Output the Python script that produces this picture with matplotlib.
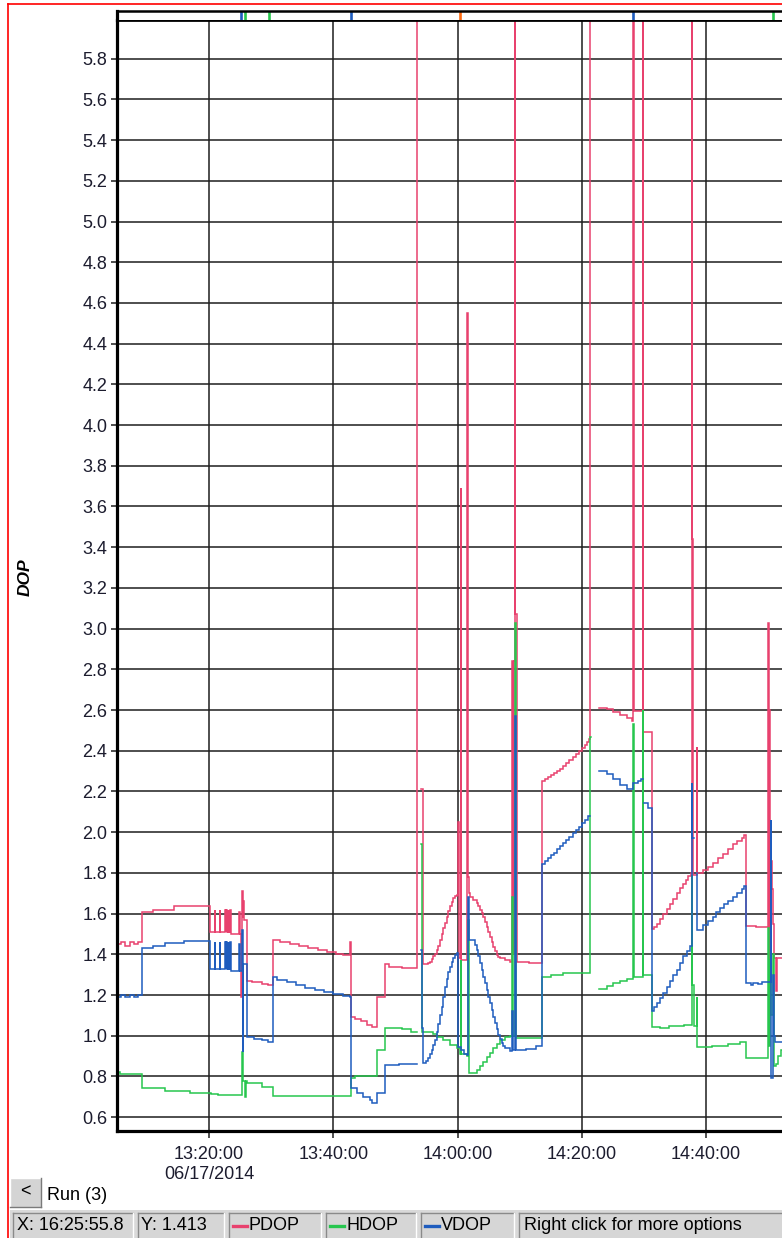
import numpy as np
import matplotlib
matplotlib.use("Agg")
import matplotlib.pyplot as plt
from matplotlib.patches import Rectangle
from matplotlib.lines import Line2D

plt.rcParams['font.family'] = ['Liberation Sans', 'DejaVu Sans']

TOP = 9.9      # readings that run off the top of the chart
NA = np.nan    # no fix recorded

# Time is minutes after 13:00:00 on 06/17/2014; each pair is (minute, DOP)
PDOP = [
    (5.2, 1.45), (5.9, 1.46), (6.5, 1.44), (7.3, 1.46), (7.9, 1.45), (8.6, 1.46),
    (9.2, 1.61), (11.0, 1.62), (14.4, 1.635), (20.2, 1.51),
    (20.9, 1.62), (21.0, 1.51), (21.7, 1.62), (21.8, 1.51), (22.6, 1.62), (22.7, 1.51),
    (22.8, 1.62), (22.9, 1.51), (23.0, 1.62), (23.1, 1.51), (23.2, 1.62), (23.3, 1.51),
    (23.4, 1.62), (23.5, 1.50), (24.9, 1.61), (25.0, 1.50), (25.2, 1.19), (25.3, 1.71),
    (25.4, 1.58), (25.5, 1.66), (25.6, 1.57), (26.1, 1.27), (27.0, 1.265), (28.5, 1.255),
    (29.5, 1.25), (30.3, 1.47), (31.5, 1.46), (33.0, 1.45), (34.5, 1.44), (36.0, 1.43),
    (37.5, 1.42), (39.0, 1.41), (40.5, 1.40), (41.5, 1.395), (42.7, 1.46), (42.85, 1.09),
    (43.5, 1.08), (44.5, 1.07), (45.5, 1.055), (46.3, 1.045), (47.0, 1.19), (48.3, 1.35),
    (49.0, 1.34), (51.0, 1.335), (53.47, TOP), (53.6, NA),
    (54.2, 2.21), (54.45, 1.35), (54.76, 1.35), (55.2, 1.357), (55.56, 1.364), (55.83, 1.375),
    (56.1, 1.39), (56.37, 1.404), (56.64, 1.42), (56.9, 1.443), (57.17, 1.47), (57.43, 1.498),
    (57.7, 1.528), (57.97, 1.556), (58.25, 1.585), (58.5, 1.612), (58.78, 1.635),
    (59.05, 1.656), (59.31, 1.675), (59.58, 1.685), (59.86, 1.692),
    (60.15, 2.05), (60.22, 1.38), (60.55, 3.69), (60.62, 1.37), (61.6, 4.55), (61.67, 1.78),
    (61.85, 1.70), (62.0, 1.684), (62.54, 1.668), (63.08, 1.652), (63.34, 1.636), (63.6, 1.62),
    (63.87, 1.603), (64.14, 1.585), (64.41, 1.56), (64.69, 1.536), (64.95, 1.51),
    (65.22, 1.486), (65.48, 1.462), (65.75, 1.438), (66.02, 1.417), (66.3, 1.397),
    (66.56, 1.388), (66.83, 1.38), (67.63, 1.372), (68.44, 1.364),
    (68.7, 2.84), (68.9, 1.40), (69.1, 2.84), (69.24, TOP), (69.28, 3.07), (69.55, 1.36),
    (71.5, 1.357), (73.55, 2.25), (74.0, 2.26), (74.5, 2.27), (75.0, 2.28), (75.5, 2.29),
    (76.0, 2.30), (76.5, 2.31), (77.0, 2.325), (77.5, 2.34), (78.0, 2.355), (78.5, 2.37),
    (79.0, 2.385), (79.5, 2.40), (80.0, 2.415), (80.5, 2.43), (80.9, 2.445), (81.2, 2.46),
    (81.31, TOP), (81.45, NA),
    (82.76, 2.61), (84.0, 2.607), (85.05, 2.59), (86.14, 2.577), (87.2, 2.56), (88.0, 2.547),
    (88.28, TOP), (88.32, 2.595), (89.84, TOP), (89.88, 2.49), (91.28, 1.525),
    (91.65, 1.535), (92.04, 1.55), (92.55, 1.575), (93.1, 1.60), (93.65, 1.624),
    (94.18, 1.647), (94.7, 1.673), (95.25, 1.70), (95.8, 1.724), (96.32, 1.747),
    (96.7, 1.765), (97.13, 1.785), (97.5, 1.80), (97.67, TOP), (97.71, 3.44), (97.85, 1.79),
    (98.5, 2.42), (98.56, 1.80), (99.54, 1.812), (100.35, 1.83), (101.15, 1.85),
    (101.95, 1.872), (102.76, 1.895), (103.55, 1.918), (104.37, 1.94), (105.05, 1.957),
    (105.72, 1.973), (106.1, 1.985), (106.41, 1.54), (108.0, 1.535), (109.95, 3.03),
    (110.1, 1.25), (110.2, 2.6), (110.35, 1.3), (110.5, 1.86), (110.65, 1.72), (110.8, 1.55),
    (111.0, 1.38), (111.3, 1.22), (111.45, 1.38), (113.5, 1.38),
]

HDOP = [
    (5.2, 0.82), (5.7, 0.81), (9.2, 0.745), (13.0, 0.73), (17.0, 0.72), (20.4, 0.715),
    (21.5, 0.71), (25.35, 0.92), (25.5, 0.78), (25.8, 0.70), (25.9, 0.78), (26.07, 0.77),
    (28.5, 0.75), (30.3, 0.705), (42.85, 0.79), (43.5, 0.80), (47.0, 0.93), (48.3, 1.04),
    (51.0, 1.035), (52.5, 1.02), (53.47, NA),
    (54.2, 1.94), (54.3, 1.02), (56.1, 1.01), (56.64, 0.995), (57.7, 0.979), (58.78, 0.955),
    (59.86, 0.942), (60.4, 0.91), (60.55, 1.37), (60.62, 0.91), (61.5, 0.90), (61.7, 1.57),
    (61.77, 0.815), (62.5, 0.815), (63.1, 0.83), (63.6, 0.85), (64.1, 0.87), (64.7, 0.895),
    (65.2, 0.915), (65.75, 0.94), (66.3, 0.96), (66.83, 0.98), (67.63, 0.995), (68.44, 1.0),
    (68.7, 1.68), (68.9, 1.0), (69.24, 3.03), (69.35, 0.99), (71.5, 0.99), (73.55, 1.29),
    (75.0, 1.30), (77.0, 1.31), (81.31, 2.47), (81.4, NA),
    (82.76, 1.23), (84.0, 1.245), (85.05, 1.26), (86.14, 1.27), (87.2, 1.28), (88.28, 2.53),
    (88.34, 1.29), (89.84, 2.6), (89.9, 1.30), (91.28, 1.045), (92.5, 1.04), (94.0, 1.05),
    (96.5, 1.055), (97.67, 1.79), (97.8, 1.25), (98.0, 1.05), (98.5, 1.19), (98.6, 0.945),
    (101.0, 0.95), (103.5, 0.96), (105.5, 0.97), (106.41, 0.89), (109.95, 1.53), (110.1, 0.95),
    (110.3, 1.37), (110.5, 1.1), (110.7, 1.4), (110.9, 0.85), (111.2, 0.86), (111.5, 0.90),
    (112.0, 0.93), (113.5, 0.93),
]

VDOP = [
    (5.2, 1.19), (5.9, 1.20), (6.5, 1.19), (7.3, 1.20), (7.9, 1.19), (8.6, 1.20),
    (9.2, 1.43), (11.0, 1.44), (13.0, 1.455), (16.0, 1.463), (20.2, 1.33),
    (20.9, 1.46), (21.0, 1.33), (21.7, 1.46), (21.8, 1.33), (22.6, 1.46), (22.7, 1.33),
    (22.8, 1.46), (22.9, 1.33), (23.0, 1.46), (23.1, 1.33), (23.2, 1.46), (23.3, 1.33),
    (23.4, 1.46), (23.5, 1.32), (24.9, 1.45), (25.0, 1.32), (25.3, 1.52), (25.4, 0.92),
    (25.5, 1.35), (26.1, 0.995), (27.3, 0.985), (28.5, 0.98), (29.5, 0.97),
    (30.3, 1.29), (31.0, 1.275), (32.5, 1.265), (34.0, 1.25), (35.5, 1.235), (37.0, 1.225),
    (38.5, 1.215), (40.0, 1.205), (41.5, 1.195), (42.7, 1.19), (42.85, 0.745), (43.8, 0.72),
    (44.8, 0.70), (45.9, 0.685), (46.3, 0.67), (47.0, 0.72), (48.3, 0.857), (50.5, 0.86),
    (53.47, NA),
    (54.2, 1.42), (54.35, 1.04), (54.45, 0.866), (55.0, 0.875), (55.29, 0.89), (55.56, 0.91),
    (55.84, 0.93), (56.1, 0.953), (56.37, 0.98), (56.64, 1.02), (56.9, 1.06), (57.17, 1.10),
    (57.45, 1.143), (57.7, 1.19), (57.98, 1.24), (58.24, 1.28), (58.5, 1.315), (58.78, 1.34),
    (59.06, 1.36), (59.32, 1.38), (59.58, 1.397), (59.96, 1.405),
    (60.1, 0.947), (60.55, 0.93), (61.0, 0.91), (61.5, 0.905), (61.7, 1.68),
    (61.85, 1.47), (62.27, 1.47), (62.8, 1.446), (63.06, 1.42), (63.33, 1.39), (63.6, 1.357),
    (63.88, 1.323), (64.14, 1.29), (64.41, 1.258), (64.68, 1.225), (64.94, 1.192),
    (65.21, 1.16), (65.49, 1.126), (65.75, 1.093), (66.02, 1.061), (66.28, 1.032),
    (66.55, 1.004), (66.83, 0.983), (67.1, 0.963), (67.36, 0.95), (67.63, 0.94),
    (68.44, 0.927), (68.7, 1.12), (68.9, 0.93), (69.3, 2.57), (69.36, 0.93), (71.0, 0.935),
    (72.6, 0.95), (73.55, 1.845), (74.0, 1.86), (74.5, 1.875), (75.0, 1.888), (75.5, 1.90),
    (76.0, 1.915), (76.5, 1.93), (77.0, 1.945), (77.5, 1.96), (78.0, 1.978), (78.5, 1.995),
    (79.0, 2.01), (79.5, 2.025), (80.0, 2.043), (80.5, 2.06), (81.0, 2.08), (81.31, NA),
    (82.76, 2.30), (84.0, 2.284), (85.05, 2.26), (86.14, 2.232), (87.2, 2.21), (88.28, 2.24),
    (89.0, 2.25), (89.6, 2.26), (89.84, NA), (90.0, 2.145), (90.7, 2.12), (91.28, 1.12),
    (91.65, 1.14), (92.04, 1.16), (92.55, 1.185), (93.1, 1.211), (93.65, 1.24), (94.18, 1.27),
    (94.7, 1.296), (95.25, 1.322), (95.8, 1.356), (96.32, 1.39), (96.85, 1.415), (97.4, 1.44),
    (97.65, 2.24), (97.8, 1.97), (98.0, NA), (98.5, 1.80), (98.55, 1.52), (99.54, 1.544),
    (100.3, 1.565), (101.1, 1.585), (101.65, 1.607), (102.22, 1.628), (102.9, 1.645),
    (103.6, 1.663), (104.3, 1.68), (104.96, 1.70), (105.7, 1.72), (106.1, 1.735),
    (106.41, 1.26), (107.2, 1.25), (107.6, 1.26), (108.4, 1.255), (109.0, 1.265),
    (110.38, 2.06), (110.5, 0.79), (110.7, 1.30), (110.85, 1.0), (111.07, 0.97), (113.5, 0.97),
]

# event markers in the strip above the plot: (minute, kind)
EVENTS = [(25.15, 'v'), (25.8, 'h'), (29.66, 'h'), (42.85, 'v'),
          (60.39, 'o'), (88.2, 'v'), (110.75, 'h')]

X_TICKS = [20, 40, 60, 80, 100]
X_LABELS = ['13:20:00\n06/17/2014', '13:40:00', '14:00:00', '14:20:00', '14:40:00']
Y_TICKS = [round(0.6 + 0.2 * i, 1) for i in range(27)]

C_P, C_H, C_V, C_O = '#E8416E', '#27C64E', '#1E5CBE', '#FF6A10'
EVENT_COL = {'v': C_V, 'h': C_H, 'o': C_O}

W, H = 782, 1238
fig = plt.figure(figsize=(W / 100, H / 100), dpi=100)
fig.patch.set_facecolor('white')


def fx(x):
    return x / W


def fy(y):
    return 1 - y / H


ax = fig.add_axes([fx(117), fy(1131), fx(790) - fx(117), fy(20) - fy(1131)])
ax.set_xlim(5.2, 113.5)
ax.set_ylim(0.532, 5.99)
ax.set_axisbelow(True)
ax.grid(True, color='#1e1e1e', lw=1.1)

for series, col in ((PDOP, C_P), (HDOP, C_H), (VDOP, C_V)):
    t, v = zip(*series)
    ax.plot(t, v, drawstyle='steps-post', color=col, lw=1.1, solid_joinstyle='miter')

ax.set_xticks(X_TICKS)
ax.set_xticklabels(X_LABELS)
ax.set_yticks(Y_TICKS)
ax.set_yticklabels([f'{v:.1f}' for v in Y_TICKS])
ax.tick_params(axis='both', direction='out', width=1.1, color='#1e1e1e',
               labelsize=13, labelcolor='#1c1c2e')
ax.tick_params(axis='y', length=4, pad=3)
ax.tick_params(axis='x', length=5, pad=6)
ax.spines['right'].set_visible(False)
ax.spines['left'].set_linewidth(2.3)
ax.spines['bottom'].set_linewidth(2.3)
ax.spines['top'].set_linewidth(2.0)
for s in ax.spines.values():
    s.set_color('black')

# event strip
sax = fig.add_axes([fx(117), fy(20), fx(790) - fx(117), fy(11) - fy(20)])
sax.set_xlim(5.2, 113.5)
sax.set_ylim(0, 1)
sax.set_xticks([])
sax.set_yticks([])
sax.spines['bottom'].set_visible(False)
sax.spines['right'].set_visible(False)
sax.spines['top'].set_linewidth(1.8)
sax.spines['left'].set_linewidth(2.3)
for t, k in EVENTS:
    sax.axvline(t, color=EVENT_COL[k], lw=1.9)

fig.text(fx(25), fy(577), 'DOP', rotation=90, ha='center', va='center',
         fontsize=12.5, fontweight='bold', fontstyle='italic', color='black')

# window frame
fig.add_artist(Line2D([fx(8), fx(8)], [fy(4), 0], color='#ff0000', lw=1.2))
fig.add_artist(Line2D([fx(8), 1], [fy(4), fy(4)], color='#ff0000', lw=1.2))


def panel(x0, y0, x1, y1, face, sunken=True):
    fig.add_artist(Rectangle((fx(x0), fy(y1)), fx(x1) - fx(x0), fy(y0) - fy(y1),
                             facecolor=face, edgecolor='none'))
    dark, light = ('#8a8a8a', '#ffffff') if sunken else ('#ffffff', '#7a7a7a')
    fig.add_artist(Line2D([fx(x0), fx(x1)], [fy(y0), fy(y0)], color=dark, lw=1.0))
    fig.add_artist(Line2D([fx(x0), fx(x0)], [fy(y0), fy(y1)], color=dark, lw=1.0))
    fig.add_artist(Line2D([fx(x0), fx(x1)], [fy(y1), fy(y1)], color=light, lw=1.0))
    fig.add_artist(Line2D([fx(x1), fx(x1)], [fy(y0), fy(y1)], color=light, lw=1.0))


# run selector
panel(10, 1178, 41, 1207, '#d4d4d4', sunken=False)
fig.text(fx(25.5), fy(1192), '<', ha='center', va='center', fontsize=13, color='black')
fig.text(fx(47), fy(1196), 'Run (3)', ha='left', va='center', fontsize=13, color='black')

# status bar
fig.add_artist(Rectangle((fx(10), 0), 1 - fx(10), fy(1210), facecolor='#d9d9d9',
                         edgecolor='none'))
boxes = [(13, 133), (138, 224), (229, 321), (326, 416), (421, 514), (519, 800)]
for x0, x1 in boxes:
    panel(x0, 1213, x1, 1240, '#d6d6d6')
ty = fy(1226)
fig.text(fx(17), ty, 'X: 16:25:55.8', va='center', fontsize=13, color='black')
fig.text(fx(141), ty, 'Y: 1.413', va='center', fontsize=13, color='black')
for (x0, _), name, col in zip(boxes[2:5], ['PDOP', 'HDOP', 'VDOP'], [C_P, C_H, C_V]):
    fig.add_artist(Line2D([fx(x0 + 4), fx(x0 + 18)], [ty, ty], color=col, lw=2.4))
    fig.text(fx(x0 + 20), ty, name, va='center', fontsize=13, color='black')
fig.text(fx(524), ty, 'Right click for more options', va='center', fontsize=13,
         color='black')

fig.savefig('out.png', dpi=100)
